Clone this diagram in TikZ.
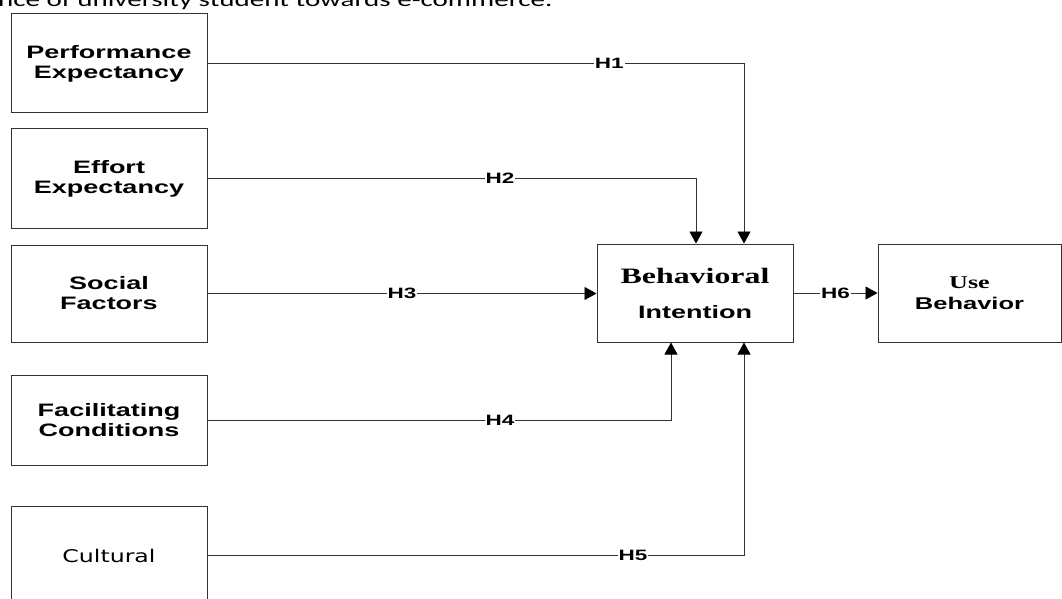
\documentclass[tikz,border=0pt]{standalone}
\usepackage{fontspec}
\usetikzlibrary{arrows.meta}
\newfontfamily\hvfont{Liberation Sans}[FakeStretch=1.5]
\newfontfamily\tmfont{Liberation Serif}[FakeStretch=1.45]
\newfontfamily\djfont{DejaVu Sans}[FakeStretch=1.35]
\newfontfamily\clfont{Carlito}[FakeStretch=1.45]
\begin{document}
\begin{tikzpicture}[x=1pt,y=-1pt,
  box/.style={draw=black!80, line width=1pt, minimum width=196pt, minimum height=99pt,
    inner sep=0pt, align=center, font=\hvfont\bfseries\fontsize{18}{20}\selectfont},
  conn/.style={draw=black!80, line width=0.9pt},
  arr/.style={conn, -{Triangle[width=13pt,length=12pt,color=black,fill=black]}},
  lbl/.style={fill=white, inner sep=1pt, font=\hvfont\bfseries\fontsize{15}{15}\selectfont}]
\useasboundingbox (0,0) rectangle (1062,599);
\clip (0,0) rectangle (1062,599);
\fill[white] (0,0) rectangle (1062,599);

\node[anchor=base west, inner sep=0pt, font=\clfont\fontsize{20}{24}\selectfont] (title) at (-2,7) {nce of university student towards e-commerce.};

\node[box] (pe) at (109,63.5) {Performance\\Expectancy};
\node[box] (ee) at (109,178.5) {Effort\\Expectancy};
\node[box, minimum height=97pt] (sf) at (109,293.5) {Social\\Factors};
\node[box, minimum height=90pt] (fc) at (109,420) {Facilitating\\Conditions};
\node[box, font=\djfont\fontsize{17.5}{20}\selectfont] (cu) at (109,555.5) {Cultural};
\node[box, minimum height=98pt] (bi) at (695,293) {{\tmfont\bfseries\fontsize{22}{20}\selectfont Behavioral}\\[15pt]Intention};
\node[box, minimum width=183pt, minimum height=98pt, font=\hvfont\bfseries\fontsize{17}{20}\selectfont] (ub) at (969.5,293) {{\tmfont\bfseries\fontsize{18}{20}\selectfont Use}\\[1pt]Behavior};

\coordinate (k1) at (744,63.5);
\coordinate (k2) at (696,178.5);
\coordinate (k4) at (671,420);
\coordinate (k5) at (744,555.5);

\draw[arr] (pe.east) -- node[lbl,pos=.749]{H1} (k1) -- (k1 |- bi.north);
\draw[arr] (ee.east) -- node[lbl,pos=.599]{H2} (k2) -- (k2 |- bi.north);
\draw[arr] (sf.east) -- node[lbl,pos=.5]{H3} (sf.east -| bi.west);
\draw[arr] (fc.east) -- node[lbl,pos=.631]{H4} (k4) -- (k4 |- bi.south);
\draw[arr] (cu.east) -- node[lbl,pos=.793]{H5} (k5) -- (k5 |- bi.south);
\draw[arr] (bi.east) -- node[lbl,pos=.5]{H6} (ub.west);
\end{tikzpicture}
\end{document}
